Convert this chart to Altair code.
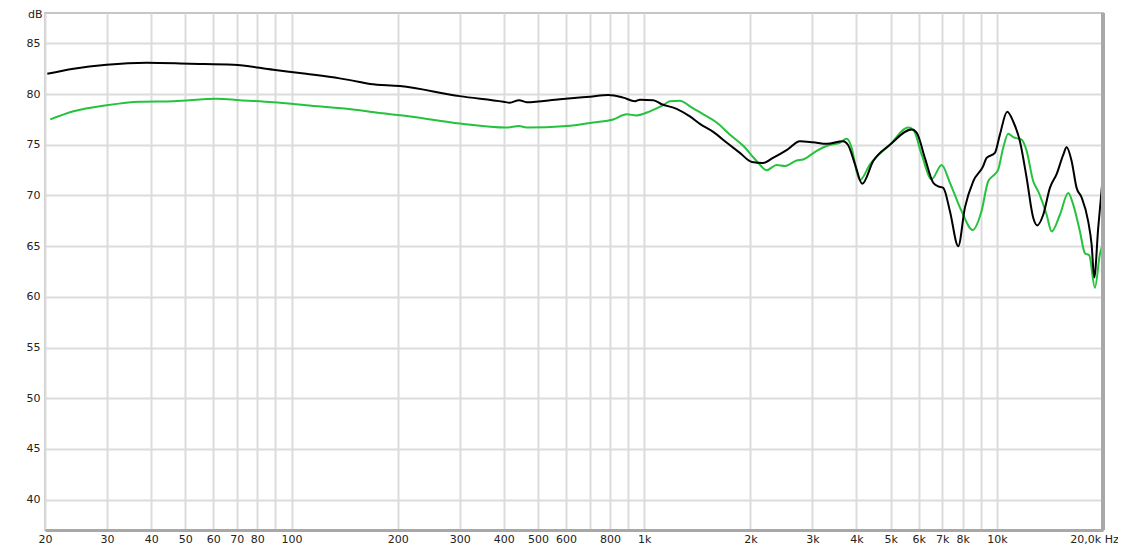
import altair as alt
import pandas as pd

# Black curve (frequency in Hz, level in dB)
black_f = [20.3, 24.1, 29.9, 38.9, 51.5, 68.4, 88.8, 110, 137, 156, 167, 203, 300, 399, 416, 442, 464,
           577, 702, 791, 872, 942, 973, 1061, 1121, 1236, 1348, 1439, 1566, 1716, 1868, 2021, 2172,
           2318, 2541, 2764, 3010, 3298, 3660, 3782, 3960, 4152, 4462, 4976, 5733, 5923, 6252, 6602,
           6820, 7048, 7362, 7772, 8118, 8570, 9148, 9352, 9874, 10202, 10700, 11128, 11626, 12146,
           12682, 13018, 13538, 14142, 14774, 15424, 15772, 16292, 16834, 17394, 18156, 18568, 18888,
           19384, 19946]
black_db = [82.0, 82.5, 82.9, 83.1, 83.0, 82.9, 82.4, 82.0, 81.55, 81.2, 81.0, 80.8, 79.8, 79.25, 79.15,
            79.4, 79.2, 79.5, 79.75, 79.9, 79.65, 79.3, 79.45, 79.4, 79.0, 78.55, 77.8, 77.07, 76.3,
            75.2, 74.2, 73.3, 73.2, 73.7, 74.5, 75.35, 75.25, 75.1, 75.35, 75.0, 73.1, 71.15, 73.4,
            75.0, 76.5, 76.2, 73.7, 71.25, 70.9, 70.75, 68.45, 65.0, 68.8, 71.4, 72.9, 73.7, 74.2,
            76.0, 78.25, 77.3, 75.35, 71.75, 67.8, 67.05, 68.1, 70.75, 72.1, 74.0, 74.75, 73.4, 70.75,
            69.8, 67.45, 65.15, 61.9, 66.8, 71.6]

# Green curve
green_f = [20.7, 24.1, 29.9, 37.2, 46.2, 61.4, 71.4, 88.8, 110, 156, 167, 217, 300, 407, 442, 464,
           603, 717, 817, 892, 952, 1038, 1132, 1183, 1263, 1348, 1471, 1605, 1751, 1909, 2084, 2224,
           2374, 2508, 2706, 2824, 3084, 3364, 3590, 3750, 3876, 4002, 4089, 4366, 4976, 5607, 5793,
           6120, 6532, 6973, 7362, 7944, 8538, 9054, 9452, 9874, 10088, 10424, 10770, 11128, 11756,
           12146, 12682, 13104, 13842, 14300, 15096, 15936, 16466, 17204, 17774, 18282, 18968, 19600,
           19946]
green_db = [77.5, 78.3, 78.9, 79.25, 79.3, 79.55, 79.4, 79.2, 78.9, 78.4, 78.25, 77.8, 77.1, 76.7,
            76.85, 76.7, 76.85, 77.2, 77.5, 78.0, 77.9, 78.3, 78.9, 79.3, 79.35, 78.8, 78.0, 77.2,
            76.0, 74.9, 73.4, 72.5, 73.0, 72.9, 73.45, 73.55, 74.4, 75.0, 75.2, 75.6, 74.7, 72.4,
            71.5, 73.05, 75.0, 76.7, 76.5, 74.05, 71.6, 73.0, 71.25, 68.45, 66.6, 68.5, 71.4, 72.1,
            72.55, 74.7, 76.1, 75.75, 75.5, 74.4, 71.4, 70.4, 68.1, 66.45, 68.1, 70.25, 69.1, 66.45,
            64.3, 64.1, 60.9, 64.2, 65.15]

# Axis grid positions and labels
x_grid = [20, 30, 40, 50, 60, 70, 80, 90, 100, 200, 300, 400, 500, 600, 700, 800, 900,
          1000, 2000, 3000, 4000, 5000, 6000, 7000, 8000, 9000, 10000, 20000]
x_unlabeled = [90, 700, 900, 9000]
y_ticks = [40, 45, 50, 55, 60, 65, 70, 75, 80, 85]

df_black = pd.DataFrame({"f": black_f, "db": black_db})
df_green = pd.DataFrame({"f": green_f, "db": green_db})

FONT = "DejaVu Sans"
W, H = 1058, 517

label_expr = (
    "datum.value == 20000 ? '20,0k Hz' : "
    "(indexof(" + str(x_unlabeled) + ", datum.value) >= 0 ? '' : "
    "(datum.value >= 1000 ? (datum.value / 1000) + 'k' : '' + datum.value))"
)

x_enc = alt.X(
    "f:Q",
    scale=alt.Scale(type="log", domain=[20, 20000], nice=False),
    axis=alt.Axis(
        values=x_grid, labelExpr=label_expr, title=None, ticks=False,
        labelFlush=False, labelOverlap=False, labelPadding=3,
        labelFont=FONT, labelFontSize=11, labelColor="#222222",
        labelOffset={"condition": {"test": "datum.value == 20000", "value": -9}, "value": 0},
        grid=True, gridColor="#dcdcdc", gridWidth=2,
        domain=True, domainColor="#a8a8a8", domainWidth=3,
    ),
)
y_enc = alt.Y(
    "db:Q",
    scale=alt.Scale(domain=[37, 88], nice=False, zero=False),
    axis=alt.Axis(
        values=y_ticks, title="dB", titleAngle=0, titleAlign="right", titleBaseline="top",
        titleX=-3, titleY=-5, titleFont=FONT, titleFontSize=11, titleFontWeight="normal",
        titleColor="#222222", ticks=False, domain=False, labelPadding=5,
        labelFont=FONT, labelFontSize=11, labelColor="#222222",
        grid=True, gridColor="#dcdcdc", gridWidth=2,
    ),
)

green = alt.Chart(df_green).mark_line(color="#25c23d", strokeWidth=2, interpolate="monotone").encode(
    x=x_enc, y=y_enc
)
black = alt.Chart(df_black).mark_line(color="#000000", strokeWidth=2, interpolate="monotone").encode(
    x=x_enc, y=y_enc
)
right_edge = alt.Chart(df_black).mark_rule(color="#a8a8a8", strokeWidth=3).encode(
    x=alt.value(W), y=alt.value(0), y2=alt.value(H)
)

chart = (
    alt.layer(green, black, right_edge)
    .properties(
        width=W, height=H,
        autosize=alt.AutoSizeParams(type="none"),
        padding={"left": 37, "top": 5, "right": 15, "bottom": 17},
        background="white",
    )
    .configure_view(stroke="#c6c6c6", strokeWidth=2)
)

chart.save("out.html", embed_options={"renderer": "svg", "actions": False})
